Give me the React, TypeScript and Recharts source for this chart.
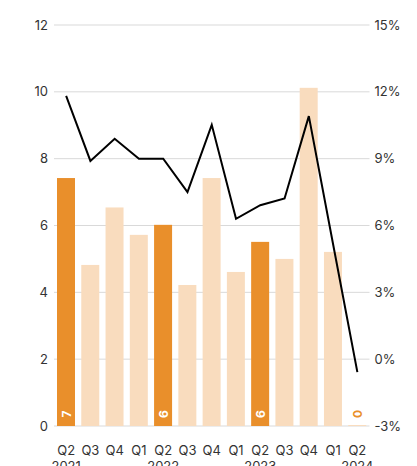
import React from 'react';
import { ComposedChart, Bar, Line, XAxis, YAxis, CartesianGrid, LabelList } from 'recharts';

const quarters = ['Q2', 'Q3', 'Q4', 'Q1', 'Q2', 'Q3', 'Q4', 'Q1', 'Q2', 'Q3', 'Q4', 'Q1', 'Q2'];
const years = ['2021', '', '', '', '2022', '', '', '', '2023', '', '', '', '2024'];
const barValues = [7.42, 4.82, 6.54, 5.72, 6.02, 4.22, 7.42, 4.61, 5.51, 5.0, 10.12, 5.21, 0.03];
const barLabels = ['7', '', '', '', '6', '', '', '', '6', '', '', '', '0'];
const highlighted = [true, false, false, false, true, false, false, false, true, false, false, false, false];
const lineValues = [11.82, 8.9, 9.89, 9.0, 9.0, 7.5, 10.52, 6.3, 6.91, 7.21, 10.91, 5.16, -0.58];
const leftTicks = [0, 2, 4, 6, 8, 10, 12];
const rightTicks = [-3, 0, 3, 6, 9, 12, 15];

const DARK = '#E98F2B';
const LIGHT = '#F9DCBE';
const TEXT = '#333333';
const FONT = 'Inter, Roboto, sans-serif';

const data = quarters.map((q, i) => ({
  idx: i,
  q,
  year: years[i],
  bar: barValues[i],
  label: barLabels[i],
  line: lineValues[i],
}));

const XTick = (props: any) => {
  const { x, y, payload } = props;
  const d = data[payload.index] || data[0];
  return (
    <g>
      <text x={x} y={y + 29} textAnchor="middle" fontSize={13} fill={TEXT} fontFamily={FONT}>
        {d.q}
      </text>
      {d.year ? (
        <text x={x} y={y + 45} textAnchor="middle" fontSize={13} fill={TEXT} fontFamily={FONT}>
          {d.year}
        </text>
      ) : null}
    </g>
  );
};

const renderLabel = (props: any) => {
  const { x, y, width, height, value, index } = props;
  if (!value) return null;
  const cx = Number(x) + Number(width) / 2;
  const cy = Number(y) + Number(height) - 12;
  const inside = Number(height) > 24;
  return (
    <text
      key={index}
      x={cx}
      y={cy}
      textAnchor="middle"
      dominantBaseline="central"
      fontSize={12}
      fontWeight={700}
      fill={inside ? '#ffffff' : DARK}
      fontFamily={FONT}
      transform={`rotate(-90, ${cx}, ${cy})`}
    >
      {value}
    </text>
  );
};

export default function App() {
  return (
    <div style={{ position: 'absolute', left: 0, top: 0 }}>
      <ComposedChart
        width={417}
        height={466}
        data={data}
        margin={{ top: 25, right: 0, bottom: 0, left: 0 }}
      >
        <CartesianGrid vertical={false} stroke="#d9d9d9" yAxisId="left" />
        <XAxis
          dataKey="idx"
          tick={<XTick />}
          tickLine={false}
          axisLine={false}
          tickSize={0}
          tickMargin={0}
          height={40}
          interval={0}
        />
        <YAxis
          yAxisId="left"
          orientation="left"
          domain={[0, 12]}
          ticks={leftTicks}
          width={54}
          tickLine={false}
          axisLine={false}
          tickSize={0}
          tickMargin={6}
          tick={{ fontSize: 13, fill: TEXT, fontFamily: FONT }}
        />
        <YAxis
          yAxisId="right"
          orientation="right"
          domain={[-3, 15]}
          ticks={rightTicks}
          width={47.5}
          tickLine={false}
          axisLine={false}
          tickSize={0}
          tickMargin={5}
          tickFormatter={(v: number) => `${v}%`}
          tick={{ fontSize: 13, fill: TEXT, fontFamily: FONT }}
        />
        <Bar yAxisId="left" dataKey="bar" barSize={18} isAnimationActive={false}
          shape={(p: any) => (
            <rect x={p.x} y={p.y} width={p.width} height={p.height}
              fill={highlighted[p.index] ? DARK : LIGHT} />
          )}
        >
          <LabelList dataKey="label" content={renderLabel} />
        </Bar>
        <Line
          yAxisId="right"
          dataKey="line"
          stroke="#000000"
          strokeWidth={2}
          dot={false}
          activeDot={false}
          isAnimationActive={false}
          type="linear"
        />
      </ComposedChart>
    </div>
  );
}
